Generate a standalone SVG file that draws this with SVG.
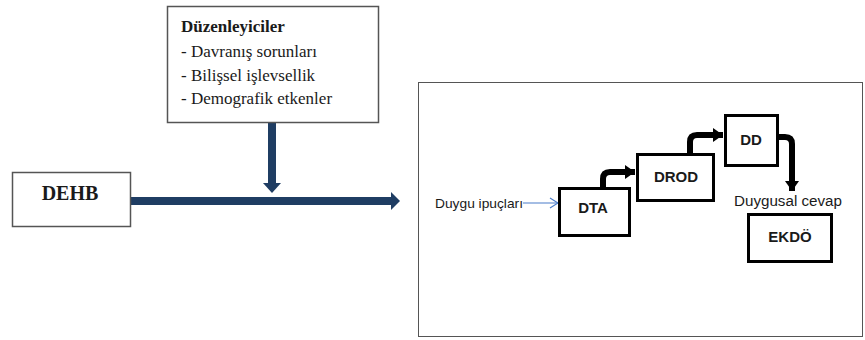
<svg xmlns="http://www.w3.org/2000/svg" width="865" height="340" viewBox="0 0 865 340">
<style>
.thin{fill:#fff;stroke:#555;stroke-width:1.5}
.thick{fill:#fff;stroke:#000;stroke-width:3}
.serif{font-family:"Liberation Serif","Times New Roman",serif;fill:#1a1a1a}
.sans{font-family:"Liberation Sans",Arial,sans-serif;fill:#1a1a1a}
.bk{fill:none;stroke:#000;stroke-width:6;stroke-linejoin:round}
.navy{fill:#1f3d63}
</style>
<defs>
<marker id="bh" markerUnits="userSpaceOnUse" markerWidth="12" markerHeight="14" refX="10" refY="7" orient="auto">
<path d="M0,0 L10,7 L0,14 Z" fill="#000"/>
</marker>
<marker id="blue" markerUnits="userSpaceOnUse" markerWidth="10" markerHeight="12" refX="9" refY="6" orient="auto">
<path d="M1,1 L9,6 L1,11" fill="none" stroke="#4a7cc9" stroke-width="1.2"/>
</marker>
</defs>
<rect x="0" y="0" width="865" height="340" fill="#fff"/>

<g id="connectors">
<rect class="navy" x="268" y="122" width="8" height="62"/>
<polygon class="navy" points="263,183 281,183 272,193"/>
<rect class="navy" x="131" y="197" width="262" height="8"/>
<polygon class="navy" points="391,192 400,201 391,210"/>
<line x1="523" y1="203" x2="558" y2="203" stroke="#4a7cc9" stroke-width="1.2" marker-end="url(#blue)"/>
<path class="bk" d="M603,188 V179 Q603,172 610,172 H635" marker-end="url(#bh)"/>
<path class="bk" d="M690,154 V142 Q690,135 697,135 H723" marker-end="url(#bh)"/>
<path class="bk" d="M779,137 H785 Q792,137 792,144 V191" marker-end="url(#bh)"/>
</g>

<g id="duzenleyiciler">
<rect class="thin" x="167.5" y="6.5" width="211" height="116"/>
<text class="serif" x="181" y="32" font-size="17" font-weight="bold">Düzenleyiciler</text>
<text class="serif" x="181" y="57" font-size="17">- Davranış sorunları</text>
<text class="serif" x="181" y="81" font-size="17">- Bilişsel işlevsellik</text>
<text class="serif" x="181" y="104" font-size="17">- Demografik etkenler</text>
</g>

<g id="dehb">
<rect class="thin" x="12.5" y="172.5" width="118" height="54"/>
<text class="serif" x="70" y="200" font-size="20" font-weight="bold" text-anchor="middle">DEHB</text>
</g>

<g id="model">
<rect x="418.5" y="82.5" width="444" height="254" fill="none" stroke="#555" stroke-width="1"/>
</g>

<g id="duygu-ipuclari">
<text class="sans" x="435" y="208" font-size="13.5" textLength="88" lengthAdjust="spacingAndGlyphs">Duygu ipuçları</text>
</g>

<g id="dta">
<rect class="thick" x="559.5" y="188.5" width="70" height="47"/>
<text class="sans" x="593" y="213" font-size="15" font-weight="bold" text-anchor="middle">DTA</text>
</g>

<g id="drod">
<rect class="thick" x="637.5" y="154.5" width="76" height="46"/>
<text class="sans" x="676" y="182" font-size="15" font-weight="bold" text-anchor="middle">DROD</text>
</g>

<g id="dd">
<rect class="thick" x="725.5" y="115.5" width="52" height="50"/>
<text class="sans" x="751" y="145" font-size="15" font-weight="bold" text-anchor="middle">DD</text>
</g>

<g id="duygusal-cevap">
<text class="sans" x="734" y="206" font-size="14" textLength="108" lengthAdjust="spacingAndGlyphs">Duygusal cevap</text>
</g>

<g id="ekdo">
<rect class="thick" x="748.5" y="214.5" width="83" height="47"/>
<text class="sans" x="790" y="242" font-size="15" font-weight="bold" text-anchor="middle">EKDÖ</text>
</g>
</svg>
